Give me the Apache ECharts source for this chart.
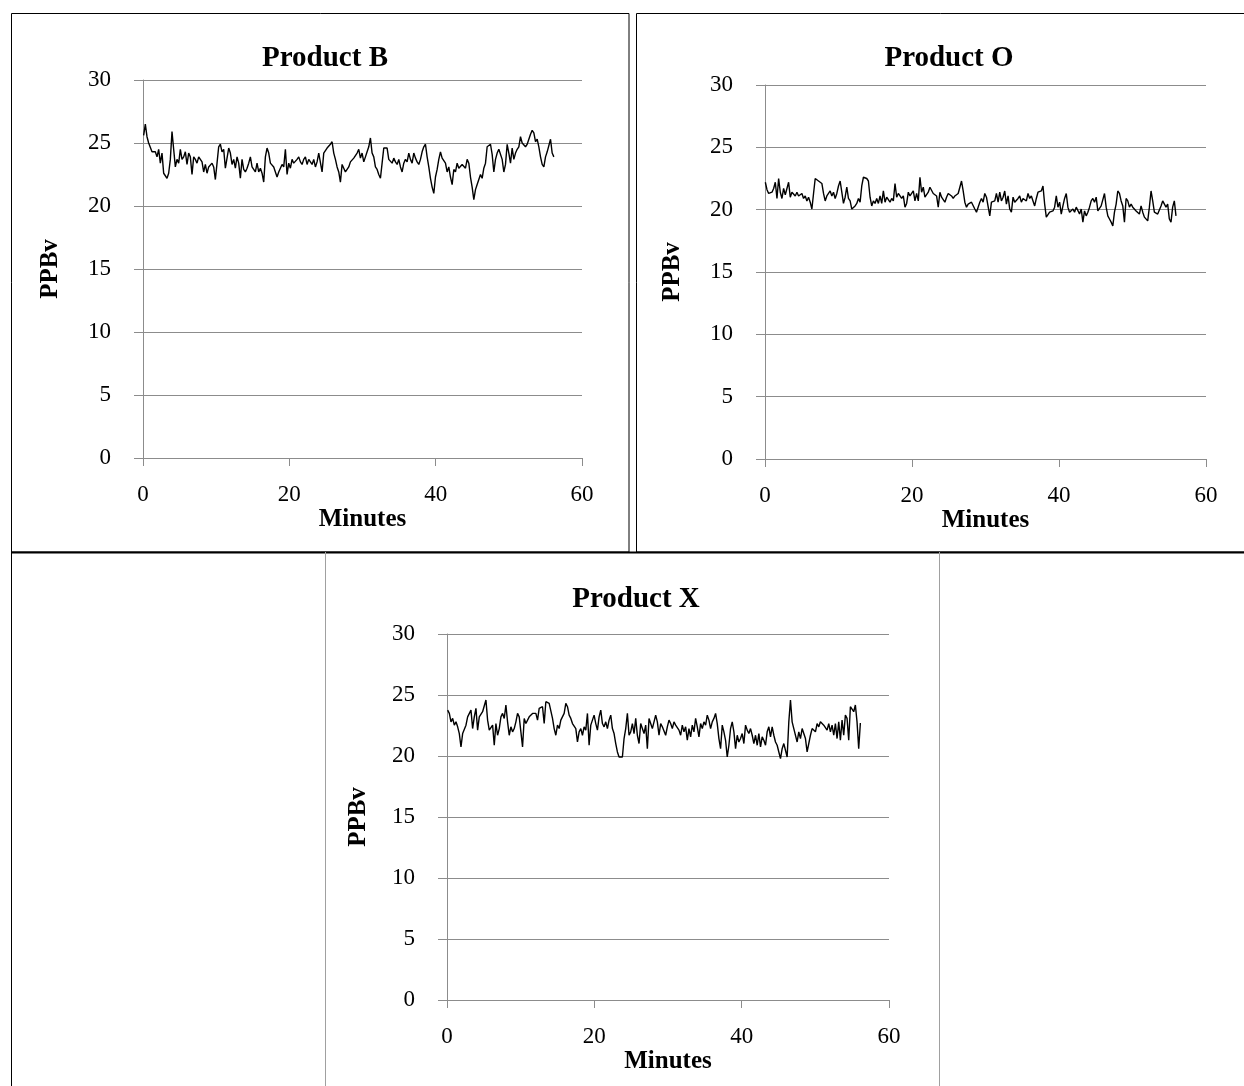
<!DOCTYPE html>
<html><head><meta charset="utf-8">
<script src="https://cdn.jsdelivr.net/npm/echarts@6.0.0/dist/echarts.min.js"></script>
<style>html,body{margin:0;padding:0;background:#fff}#c{width:1244px;height:1086px}</style>
</head><body><div id="c"></div>
<script>
const chartTitles = ['Product B', 'Product O', 'Product X'];
const xAxisName = 'Minutes';
const yAxisName = 'PPBv';
const xTickValues = [0, 20, 40, 60];
const yTickValues = [0, 5, 10, 15, 20, 25, 30];

// sampling: first sample time (minutes) and sample spacing (minutes)
const productB_start = 0.09, productB_step = 0.2279;
const productB = [
25.6,26.5,25.5,25.0,24.9,24.3,24.2,24.3,23.9,24.5,
23.4,24.2,22.6,22.4,22.2,22.6,23.7,25.9,24.5,23.1,
23.7,23.4,24.5,23.7,23.9,24.3,23.3,24.2,23.9,22.5,
23.9,23.7,23.4,23.9,23.7,23.5,22.7,23.3,22.6,23.1,
23.0,23.4,23.1,22.1,23.4,24.7,24.9,24.3,24.5,23.0,
22.9,24.6,24.2,23.3,23.7,23.0,23.9,23.4,22.2,23.7,
22.9,22.7,23.0,23.4,23.9,23.1,23.0,22.7,23.4,22.7,
23.0,22.6,21.9,23.9,24.6,24.2,23.4,23.5,23.1,23.0,
22.3,22.7,23.0,23.3,23.1,24.5,22.5,23.4,23.0,23.7,
23.4,23.3,23.7,23.9,23.5,23.3,23.7,23.9,23.3,23.7,
23.8,23.3,23.7,23.1,23.5,24.2,24.3,22.7,24.2,24.3,
24.6,24.5,24.9,25.1,24.2,23.7,23.1,22.7,21.9,23.3,
23.0,22.7,22.9,23.1,23.5,23.4,23.8,23.9,24.2,24.5,
23.8,24.2,23.5,23.9,24.3,24.7,25.4,24.2,23.9,23.1,
22.9,22.5,22.2,23.4,24.6,24.5,24.6,23.7,23.7,23.4,
23.8,23.5,23.3,23.7,23.1,22.7,23.4,23.7,23.5,24.2,
23.7,23.4,24.2,23.8,23.5,23.3,23.7,24.3,24.7,24.9,
23.9,23.1,22.2,21.5,21.0,22.3,22.9,23.7,24.3,23.8,
23.9,23.4,22.7,23.1,22.3,21.7,22.9,22.7,23.4,23.0,
23.0,23.3,23.4,23.0,23.7,23.4,22.3,21.5,20.5,21.3,
21.7,22.1,22.5,22.2,23.0,23.4,24.7,24.6,24.9,24.1,
22.7,23.7,24.2,24.5,24.6,23.7,22.7,23.3,24.9,24.2,
23.4,24.6,23.7,24.2,24.5,24.7,25.5,25.0,24.9,24.7,
24.9,25.0,25.7,26.0,25.8,25.1,25.3,24.7,23.9,23.3,
23.1,23.9,24.3,24.2,25.3,24.2,23.9
];

const productO_start = 0.045, productO_step = 0.2262;
const productO = [
22.2,21.6,21.3,21.2,21.4,21.7,22.2,20.9,22.5,21.4,
20.9,21.7,21.2,21.3,22.2,21.0,21.4,21.3,21.1,21.4,
21.1,21.0,21.3,20.9,21.1,20.7,21.0,20.6,20.05,21.3,
22.5,22.6,22.3,22.2,22.1,21.3,20.7,21.1,21.0,21.5,
21.1,21.4,20.9,21.3,21.9,22.3,21.4,20.5,21.0,21.8,
20.9,20.7,20.05,20.2,20.3,20.5,20.9,20.6,21.9,22.6,
22.6,22.5,22.3,21.0,20.3,20.7,20.5,20.9,20.5,21.1,
20.5,21.5,20.6,21.0,21.1,20.6,20.9,20.7,22.1,21.0,
21.3,21.4,20.9,21.1,20.2,20.5,21.4,21.1,21.0,21.5,
20.7,21.3,20.7,22.6,21.4,21.8,21.0,20.9,21.4,21.8,
21.9,21.3,21.4,21.1,20.2,21.4,21.0,21.1,20.6,21.0,
21.3,21.4,21.1,20.9,21.1,21.0,21.3,21.4,22.3,21.5,
20.6,20.2,20.45,20.3,20.6,20.45,20.05,19.8,20.2,20.6,
20.9,20.6,21.3,21.0,20.9,19.5,20.6,20.45,20.7,21.3,
20.6,21.4,20.7,21.0,21.5,20.45,21.1,20.05,19.8,21.0,
20.6,20.7,20.9,21.1,20.6,20.9,21.0,20.7,21.3,20.9,
21.1,20.7,20.3,20.9,21.4,21.4,21.5,21.9,20.45,19.4,
19.25,19.8,19.9,19.9,20.2,21.1,20.2,20.6,19.65,20.3,
20.9,21.3,20.2,19.8,19.65,20.05,19.8,20.2,20.3,19.65,
20.05,19.0,19.9,19.5,19.8,20.2,20.7,20.9,20.6,21.0,
19.9,19.8,20.3,20.45,21.3,20.2,19.5,19.25,19.0,18.7,
19.8,20.45,21.5,21.3,20.7,20.3,19.0,20.9,20.7,20.2,
20.45,20.2,20.3,19.9,20.05,19.65,20.3,19.8,19.4,19.5,
19.1,20.2,21.5,20.7,19.8,19.9,19.65,19.5,20.3,20.7,
20.6,20.2,20.45,19.25,19.0,20.2,20.7,19.5
];

const productX_start = 0.09, productX_step = 0.2259;
const productX = [
23.76,23.49,22.80,23.08,22.53,22.80,22.39,21.84,20.74,21.84,
21.70,22.53,23.21,23.08,23.76,22.25,23.21,23.90,22.12,23.21,
23.08,23.63,23.76,24.59,22.94,22.12,21.98,22.53,20.88,22.66,
21.70,22.25,23.21,23.49,23.08,24.18,22.80,21.70,22.39,21.98,
22.25,22.80,23.49,23.21,21.98,20.74,23.08,22.66,22.80,23.21,
23.08,23.49,23.35,23.49,22.94,23.90,23.76,24.04,22.66,24.45,
24.45,24.31,24.18,23.08,22.25,21.70,22.53,22.25,22.94,22.80,
23.49,24.31,24.04,23.35,23.08,22.66,22.80,22.25,21.15,21.98,
22.25,21.70,22.39,22.12,23.49,20.88,22.53,22.94,23.35,22.66,
22.12,23.21,23.76,22.66,22.39,22.80,22.25,22.94,23.35,22.25,
21.84,21.02,20.33,19.92,20.05,19.92,21.43,22.25,23.49,21.70,
21.98,22.66,21.84,23.08,21.70,21.02,22.66,22.25,21.84,22.53,
20.60,23.08,22.66,22.25,22.80,23.35,22.80,21.70,22.66,22.39,
22.25,21.70,22.39,22.94,22.66,22.25,22.80,22.53,22.39,22.12,
21.70,22.53,21.98,22.39,21.29,22.25,21.57,22.53,21.98,23.08,
22.39,21.57,22.66,22.25,22.80,22.53,23.35,22.94,22.25,22.80,
23.08,23.49,22.66,21.43,20.60,22.53,21.98,21.29,19.92,20.88,
22.25,22.80,21.98,20.60,21.70,21.15,21.43,21.84,21.02,22.53,
22.12,21.84,22.25,21.70,21.02,21.70,20.88,21.84,20.74,21.57,
21.29,20.88,21.98,22.39,21.57,22.39,21.70,21.15,20.88,20.33,
19.78,20.60,21.02,21.15,19.92,22.80,24.59,22.80,22.25,22.39,
21.15,21.98,21.43,22.25,22.12,21.43,20.33,20.19,21.70,22.25,
22.12,21.98,22.66,22.39,22.80,22.94,22.53,22.39,22.12,22.66,
21.98,22.53,21.70,22.66,21.43,22.80,21.29,22.94,21.70,23.35,
23.08,21.29,24.04,24.18,23.63,24.18,22.80,20.60,22.70
];

function pairs(start, step, vals) {
  return vals.map((v, i) => [+(start + i * step).toFixed(3), v]);
}

const FONT = "'Liberation Serif', 'DejaVu Serif', serif";
const GRAY = '#8c8c8c';

const panels = [
  { grid: { left: 143, top: 80, width: 439, height: 378 }, title: { x: 320, y: 39 }, yNameGap: 80 },
  { grid: { left: 765, top: 85, width: 441, height: 374 }, title: { x: 944, y: 39 }, yNameGap: 80 },
  { grid: { left: 447, top: 634, width: 442, height: 366 }, title: { x: 631, y: 580 }, yNameGap: 76 }
];
const seriesData = [
  pairs(productB_start, productB_step, productB),
  pairs(productO_start, productO_step, productO),
  pairs(productX_start, productX_step, productX)
];

const option = {
  animation: false,
  backgroundColor: '#fff',
  title: panels.map((p, i) => ({
    text: chartTitles[i], left: p.title.x, top: p.title.y, textAlign: 'center',
    textStyle: { fontFamily: FONT, fontSize: 29, fontWeight: 'bold', color: '#000' }
  })),
  grid: panels.map(p => Object.assign({ containLabel: false }, p.grid)),
  xAxis: panels.map((p, i) => ({
    type: 'value', gridIndex: i, min: xTickValues[0], max: xTickValues[xTickValues.length - 1], interval: 20,
    name: xAxisName, nameLocation: 'middle', nameGap: 49,
    nameTextStyle: { fontFamily: FONT, fontSize: 25, fontWeight: 'bold', color: '#000' },
    axisLine: { show: true, onZero: false, lineStyle: { color: GRAY, width: 1 } },
    axisTick: { show: true, length: 8, lineStyle: { color: GRAY, width: 1 } },
    axisLabel: { margin: 25, fontFamily: FONT, fontSize: 23, color: '#000' },
    splitLine: { show: false }
  })),
  yAxis: panels.map((p, i) => ({
    type: 'value', gridIndex: i, min: yTickValues[0], max: yTickValues[yTickValues.length - 1], interval: 5,
    name: yAxisName, nameLocation: 'middle', nameGap: p.yNameGap, nameRotate: 90,
    nameTextStyle: { fontFamily: FONT, fontSize: 25, fontWeight: 'bold', color: '#000' },
    axisLine: { show: true, lineStyle: { color: GRAY, width: 1 } },
    axisTick: { show: true, length: 9, lineStyle: { color: GRAY, width: 1 } },
    axisLabel: { margin: 32, fontFamily: FONT, fontSize: 23, color: '#000' },
    splitLine: { show: true, lineStyle: { color: GRAY, width: 1 } }
  })),
  series: seriesData.map((d, i) => ({
    type: 'line', xAxisIndex: i, yAxisIndex: i, data: d,
    showSymbol: false, symbol: 'none',
    lineStyle: { color: '#000', width: 1.4 }
  })),
  graphic: [
    { type: 'rect', shape: { x: 11.5, y: 13.5, width: 617.5, height: 538.5 }, style: { fill: null, stroke: '#000', lineWidth: 1 }, silent: true },
    { type: 'rect', shape: { x: 636.5, y: 13.5, width: 620, height: 538.5 }, style: { fill: null, stroke: '#000', lineWidth: 1 }, silent: true },
    { type: 'line', shape: { x1: 11, y1: 552.5, x2: 1244, y2: 552.5 }, style: { stroke: '#000', lineWidth: 2 }, silent: true },
    { type: 'line', shape: { x1: 11.5, y1: 552, x2: 11.5, y2: 1086 }, style: { stroke: '#000', lineWidth: 1 }, silent: true },
    { type: 'line', shape: { x1: 325.5, y1: 552, x2: 325.5, y2: 1086 }, style: { stroke: '#a0a0a0', lineWidth: 1 }, silent: true },
    { type: 'line', shape: { x1: 939.5, y1: 552, x2: 939.5, y2: 1086 }, style: { stroke: '#a0a0a0', lineWidth: 1 }, silent: true }
  ]
};

const chart = echarts.init(document.getElementById('c'), null, { renderer: 'canvas' });
chart.setOption(option);
</script>
</body></html>
